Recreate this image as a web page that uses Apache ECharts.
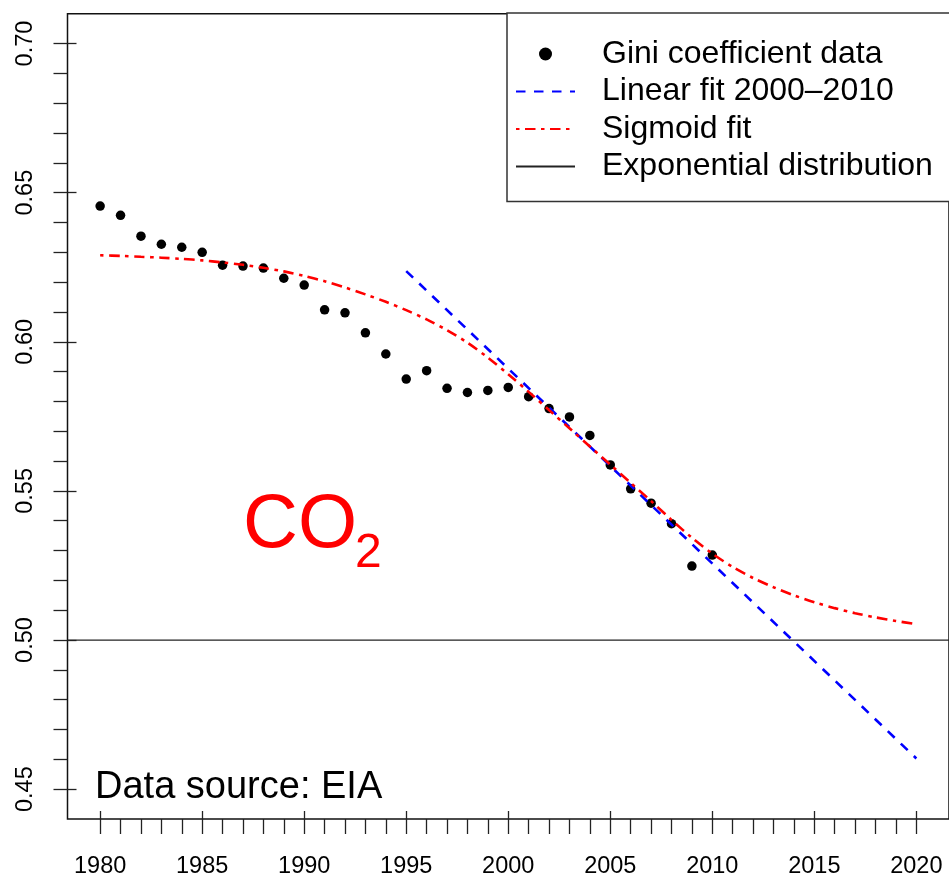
<!DOCTYPE html>
<html>
<head>
<meta charset="utf-8">
<script src="https://cdn.jsdelivr.net/npm/echarts@6/dist/echarts.min.js"></script>
<style>
  html, body { margin: 0; padding: 0; background: #fff; }
  #chart { width: 949px; height: 879px; }
</style>
</head>
<body>
<div id="chart"></div>
<script>
// Gini coefficient of CO2 emissions, 1980-2010
const years = [1980, 1981, 1982, 1983, 1984, 1985, 1986, 1987, 1988, 1989,
               1990, 1991, 1992, 1993, 1994, 1995, 1996, 1997, 1998, 1999,
               2000, 2001, 2002, 2003, 2004, 2005, 2006, 2007, 2008, 2009, 2010];
const gini = [0.6455, 0.6424, 0.6354, 0.6327, 0.6317, 0.6300, 0.6257, 0.6254, 0.6247, 0.6213,
              0.6190, 0.6107, 0.6097, 0.6030, 0.5959, 0.5875, 0.5903, 0.5844, 0.5830, 0.5837,
              0.5847, 0.5816, 0.5776, 0.5748, 0.5686, 0.5587, 0.5507, 0.5459, 0.5390, 0.5248, 0.5285];

// Linear fit over 2000-2010, drawn from 1995 to 2020
const linearYears = [1995, 2020];
const linearValues = [0.6237, 0.4603];

// Sigmoid fit, sampled yearly
const sigmoidYears = [1980, 1981, 1982, 1983, 1984, 1985, 1986, 1987, 1988, 1989,
                      1990, 1991, 1992, 1993, 1994, 1995, 1996, 1997, 1998, 1999,
                      2000, 2001, 2002, 2003, 2004, 2005, 2006, 2007, 2008, 2009,
                      2010, 2011, 2012, 2013, 2014, 2015, 2016, 2017, 2018, 2019, 2020];
const sigmoidValues = [0.6290, 0.6288, 0.6285, 0.6282, 0.6278, 0.6273, 0.6266, 0.6258, 0.6248, 0.6236,
                       0.6221, 0.6203, 0.6182, 0.6159, 0.6134, 0.6106, 0.6075, 0.6039, 0.5997, 0.5947,
                       0.5891, 0.5832, 0.5771, 0.5710, 0.5649, 0.5588, 0.5527, 0.5466, 0.5403, 0.5343,
                       0.5290, 0.5245, 0.5208, 0.5177, 0.5150, 0.5127, 0.5107, 0.5090, 0.5076, 0.5064, 0.5053];

// Exponential distribution reference level
const expoLevel = 0.5;

// Axis ranges and ticks
const xRange = [1978.4, 2021.6];
const yRange = [0.44, 0.71];
const xMajorTicks = [1980, 1985, 1990, 1995, 2000, 2005, 2010, 2015, 2020];
const xMinorTicks = [1980, 1981, 1982, 1983, 1984, 1985, 1986, 1987, 1988, 1989,
                     1990, 1991, 1992, 1993, 1994, 1995, 1996, 1997, 1998, 1999,
                     2000, 2001, 2002, 2003, 2004, 2005, 2006, 2007, 2008, 2009,
                     2010, 2011, 2012, 2013, 2014, 2015, 2016, 2017, 2018, 2019, 2020];
const yMajorTicks = [0.45, 0.50, 0.55, 0.60, 0.65, 0.70];
const yMinorTicks = [0.45, 0.46, 0.47, 0.48, 0.49, 0.50, 0.51, 0.52, 0.53, 0.54,
                     0.55, 0.56, 0.57, 0.58, 0.59, 0.60, 0.61, 0.62, 0.63, 0.64,
                     0.65, 0.66, 0.67, 0.68, 0.69, 0.70];

const FONT = '"Liberation Sans", Arial, Helvetica, sans-serif';
const zip = (xs, ys) => xs.map((x, i) => [x, ys[i]]);

const chart = echarts.init(document.getElementById('chart'), null, { renderer: 'canvas' });

const tickStyle = { color: '#222', width: 1.3 };

const outerX = {
  type: 'value', gridIndex: 0, position: 'bottom',
  min: xRange[0], max: xRange[1],
  axisLine: { show: false }, splitLine: { show: false },
  axisTick: { show: true, inside: false, length: 15, customValues: xMinorTicks, lineStyle: tickStyle },
  axisLabel: { show: true, customValues: xMajorTicks, margin: 36,
               fontSize: 23.5, fontFamily: FONT, color: '#000',
               formatter: v => String(v) }
};
const innerX = {
  type: 'value', gridIndex: 0, position: 'bottom',
  min: xRange[0], max: xRange[1],
  axisLine: { show: false }, splitLine: { show: false },
  axisTick: { show: true, inside: true, length: 8, customValues: xMajorTicks, lineStyle: tickStyle },
  axisLabel: { show: false }
};
const outerY = {
  type: 'value', gridIndex: 0, position: 'left',
  min: yRange[0], max: yRange[1],
  axisLine: { show: false }, splitLine: { show: false },
  axisTick: { show: true, inside: false, length: 14, customValues: yMinorTicks, lineStyle: tickStyle },
  axisLabel: { show: true, customValues: yMajorTicks, rotate: 90, margin: 30,
               fontSize: 23.5, fontFamily: FONT, color: '#000',
               formatter: v => Number(v).toFixed(2) }
};
const innerY = {
  type: 'value', gridIndex: 0, position: 'left',
  min: yRange[0], max: yRange[1],
  axisLine: { show: false }, splitLine: { show: false },
  axisTick: { show: true, inside: true, length: 9, customValues: yMajorTicks, lineStyle: tickStyle },
  axisLabel: { show: false }
};

// line entries in the legend show only their stroke
const noMarker = { opacity: 0 };

chart.setOption({
  animation: false,
  backgroundColor: '#fff',
  textStyle: { fontFamily: FONT },
  grid: {
    left: 67.5, right: -1, top: 13.7, bottom: 57,
    show: true, borderColor: '#111', borderWidth: 1.5, backgroundColor: 'transparent'
  },
  xAxis: [outerX, innerX],
  yAxis: [outerY, innerY],
  legend: {
    orient: 'vertical',
    left: 507, top: 13,
    padding: [25, 24, 19, 8],
    itemWidth: 59, itemHeight: 13, itemGap: 5.5,
    borderColor: '#333', borderWidth: 1.5, backgroundColor: '#fff',
    selectedMode: false,
    textStyle: { fontSize: 32, lineHeight: 32, color: '#000', fontFamily: FONT,
                 padding: [0, 0, 0, 22] },
    data: [
      { name: 'Gini coefficient data' },
      { name: 'Linear fit 2000\u20132010', itemStyle: noMarker },
      { name: 'Sigmoid fit', itemStyle: noMarker },
      { name: 'Exponential distribution', itemStyle: noMarker }
    ]
  },
  series: [
    {
      name: 'Gini coefficient data', type: 'scatter',
      xAxisIndex: 0, yAxisIndex: 0,
      symbol: 'circle', symbolSize: 9.5,
      itemStyle: { color: '#000', opacity: 1 },
      data: zip(years, gini), z: 2
    },
    {
      name: 'Linear fit 2000\u20132010', type: 'line',
      xAxisIndex: 0, yAxisIndex: 0,
      showSymbol: false, symbol: 'none',
      lineStyle: { color: '#0000ff', width: 2.6, type: [9.5, 8.5], cap: 'butt' },
      itemStyle: { color: '#0000ff' },
      data: zip(linearYears, linearValues), z: 3
    },
    {
      name: 'Sigmoid fit', type: 'line',
      xAxisIndex: 0, yAxisIndex: 0,
      showSymbol: false, symbol: 'none',
      smooth: 0.3,
      lineStyle: { color: '#ff0000', width: 2.6, type: [3.5, 5.5, 10.5, 5.5], cap: 'butt' },
      itemStyle: { color: '#ff0000' },
      data: zip(sigmoidYears, sigmoidValues), z: 4
    },
    {
      name: 'Exponential distribution', type: 'line',
      xAxisIndex: 0, yAxisIndex: 0,
      showSymbol: false, symbol: 'none',
      lineStyle: { color: '#222', width: 1.2 },
      itemStyle: { color: '#222' },
      data: [[xRange[0], expoLevel], [xRange[1], expoLevel]], z: 1
    }
  ],
  graphic: [
    { type: 'text', x: 243, y: 526, z: 10,
      style: { text: 'CO', font: '76px ' + FONT, fill: '#ff0000', verticalAlign: 'middle', align: 'left' } },
    { type: 'text', x: 355, y: 554, z: 10,
      style: { text: '2', font: '48px ' + FONT, fill: '#ff0000', verticalAlign: 'middle', align: 'left' } },
    { type: 'text', x: 95, y: 788, z: 10,
      style: { text: 'Data source: EIA', font: '38px ' + FONT, fill: '#000', verticalAlign: 'middle', align: 'left' } }
  ]
});
</script>
</body>
</html>
